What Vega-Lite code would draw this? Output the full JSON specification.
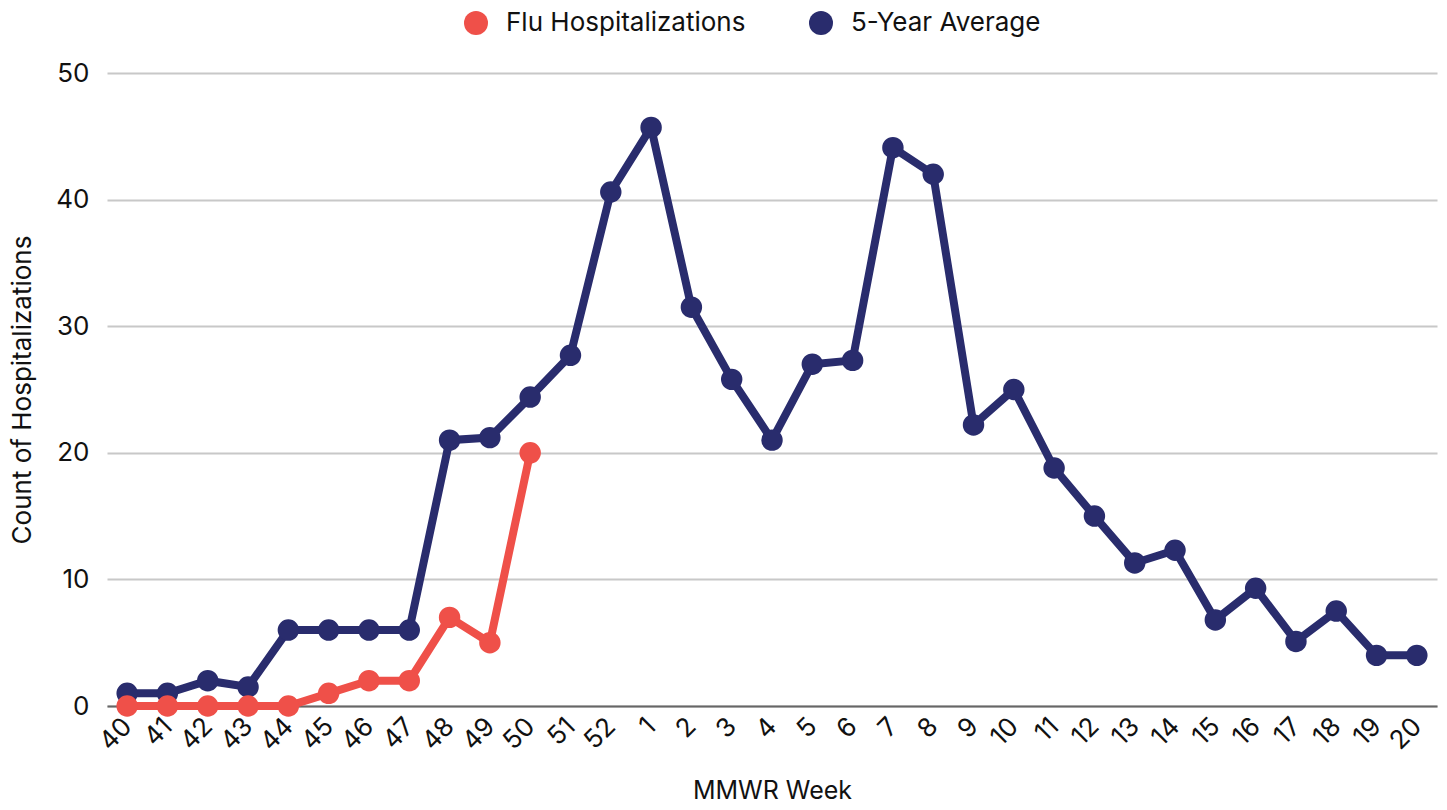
{
  "$schema": "https://vega.github.io/schema/vega-lite/v6.json",
  "width": 1330,
  "height": 633,
  "autosize": {"type": "none"},
  "padding": {"left": 107, "top": 73, "right": 10, "bottom": 104},
  "background": "white",
  "config": {
    "font": "Inter",
    "view": {"stroke": null},
    "axis": {"labelFont": "Inter", "titleFont": "Inter", "labelColor": "#111", "titleColor": "#111", "labelFontWeight": "normal", "titleFontWeight": "normal"}
  },
  "data": {
    "values": [
      {"week": "40", "series": "5-Year Average", "value": 1.0},
      {"week": "41", "series": "5-Year Average", "value": 1.0},
      {"week": "42", "series": "5-Year Average", "value": 2.0},
      {"week": "43", "series": "5-Year Average", "value": 1.5},
      {"week": "44", "series": "5-Year Average", "value": 6.0},
      {"week": "45", "series": "5-Year Average", "value": 6.0},
      {"week": "46", "series": "5-Year Average", "value": 6.0},
      {"week": "47", "series": "5-Year Average", "value": 6.0},
      {"week": "48", "series": "5-Year Average", "value": 21.0},
      {"week": "49", "series": "5-Year Average", "value": 21.2},
      {"week": "50", "series": "5-Year Average", "value": 24.4},
      {"week": "51", "series": "5-Year Average", "value": 27.7},
      {"week": "52", "series": "5-Year Average", "value": 40.6},
      {"week": "1", "series": "5-Year Average", "value": 45.7},
      {"week": "2", "series": "5-Year Average", "value": 31.5},
      {"week": "3", "series": "5-Year Average", "value": 25.8},
      {"week": "4", "series": "5-Year Average", "value": 21.0},
      {"week": "5", "series": "5-Year Average", "value": 27.0},
      {"week": "6", "series": "5-Year Average", "value": 27.3},
      {"week": "7", "series": "5-Year Average", "value": 44.1},
      {"week": "8", "series": "5-Year Average", "value": 42.0},
      {"week": "9", "series": "5-Year Average", "value": 22.2},
      {"week": "10", "series": "5-Year Average", "value": 25.0},
      {"week": "11", "series": "5-Year Average", "value": 18.8},
      {"week": "12", "series": "5-Year Average", "value": 15.0},
      {"week": "13", "series": "5-Year Average", "value": 11.3},
      {"week": "14", "series": "5-Year Average", "value": 12.3},
      {"week": "15", "series": "5-Year Average", "value": 6.8},
      {"week": "16", "series": "5-Year Average", "value": 9.3},
      {"week": "17", "series": "5-Year Average", "value": 5.1},
      {"week": "18", "series": "5-Year Average", "value": 7.5},
      {"week": "19", "series": "5-Year Average", "value": 4.0},
      {"week": "20", "series": "5-Year Average", "value": 4.0},
      {"week": "40", "series": "Flu Hospitalizations", "value": 0},
      {"week": "41", "series": "Flu Hospitalizations", "value": 0},
      {"week": "42", "series": "Flu Hospitalizations", "value": 0},
      {"week": "43", "series": "Flu Hospitalizations", "value": 0},
      {"week": "44", "series": "Flu Hospitalizations", "value": 0},
      {"week": "45", "series": "Flu Hospitalizations", "value": 1},
      {"week": "46", "series": "Flu Hospitalizations", "value": 2},
      {"week": "47", "series": "Flu Hospitalizations", "value": 2},
      {"week": "48", "series": "Flu Hospitalizations", "value": 7},
      {"week": "49", "series": "Flu Hospitalizations", "value": 5},
      {"week": "50", "series": "Flu Hospitalizations", "value": 20}
    ]
  },
  "encoding": {
    "x": {
      "field": "week",
      "type": "ordinal",
      "sort": ["40","41","42","43","44","45","46","47","48","49","50","51","52","1","2","3","4","5","6","7","8","9","10","11","12","13","14","15","16","17","18","19","20"],
      "scale": {"type": "point", "padding": 0.5},
      "axis": {
        "title": "MMWR Week",
        "titleFontSize": 25,
        "titlePadding": 24,
        "labelFontSize": 26,
        "labelAngle": -45,
        "labelAlign": "right",
        "labelBaseline": "middle",
        "labelPadding": 16,
        "ticks": false,
        "domain": true,
        "domainColor": "#666666",
        "domainWidth": 2,
        "grid": false
      }
    },
    "y": {
      "field": "value",
      "type": "quantitative",
      "scale": {"domain": [0, 50], "nice": false},
      "axis": {
        "title": "Count of Hospitalizations",
        "titleFontSize": 26,
        "titlePadding": 20,
        "labelFontSize": 26,
        "labelPadding": 18,
        "values": [0, 10, 20, 30, 40, 50],
        "ticks": false,
        "domain": false,
        "grid": true,
        "gridColor": "#c8c8c8",
        "gridWidth": 2
      }
    },
    "color": {
      "field": "series",
      "type": "nominal",
      "scale": {"domain": ["Flu Hospitalizations", "5-Year Average"], "range": ["#EF5049", "#292C6D"]},
      "legend": {
        "title": null,
        "orient": "none",
        "direction": "horizontal",
        "legendX": 356,
        "legendY": -63,
        "symbolType": "circle",
        "symbolSize": 576,
        "symbolOpacity": 1,
        "symbolStrokeWidth": 0,
        "labelFontSize": 26,
        "labelLimit": 0,
        "labelColor": "#111",
        "labelFont": "Inter",
        "columnPadding": 62,
        "labelOffset": 17
      }
    }
  },
  "layer": [
    {
      "mark": {"type": "line", "strokeWidth": 8}
    },
    {
      "mark": {"type": "point", "filled": true, "size": 460, "opacity": 1, "shape": "circle"}
    }
  ]
}
